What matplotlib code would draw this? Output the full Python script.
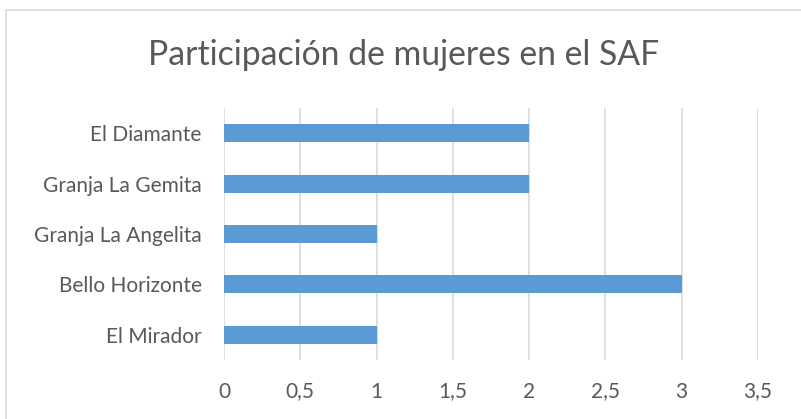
import matplotlib
matplotlib.use("Agg")
import matplotlib.pyplot as plt
import matplotlib.patches as mpatches
from matplotlib.ticker import FuncFormatter

# datos
fincas = ["El Mirador", "Bello Horizonte", "Granja La Angelita", "Granja La Gemita", "El Diamante"]
mujeres = [1, 3, 1, 2, 2]
ticks_x = [0, 0.5, 1, 1.5, 2, 2.5, 3, 3.5]

plt.rcParams['font.family'] = ['Lato', 'DejaVu Sans']
gris_texto = '#595959'

fig = plt.figure(figsize=(8.01, 4.19), dpi=100)

# marco del grafico
marco = mpatches.Rectangle((6 / 801, -0.1), 1.2, 1 - 10 / 419 + 0.1, transform=fig.transFigure,
                           fill=False, edgecolor='#D9D9D9', linewidth=1.2)
fig.patches.append(marco)

ax = fig.add_axes([224 / 801, 1 - 360 / 419, (758 - 224) / 801, (360 - 108) / 419])

ax.barh(range(len(fincas)), mujeres, height=0.36, color='#5B9BD5', zorder=3)

ax.set_xlim(0, 3.5)
ax.set_ylim(-0.5, len(fincas) - 0.5)
ax.set_xticks(ticks_x)
ax.xaxis.set_major_formatter(FuncFormatter(lambda v, p: ('%g' % v).replace('.', ',')))
ax.set_yticks(range(len(fincas)))
ax.set_yticklabels(fincas)

ax.grid(axis='x', color='#D9D9D9', linewidth=1.2, zorder=0)
for s in ax.spines.values():
    s.set_visible(False)
ax.tick_params(axis='both', length=0, labelsize=15, colors=gris_texto)
ax.tick_params(axis='x', pad=15.5)
ax.tick_params(axis='y', pad=16)

fig.text(0.504, 1 - 55 / 419, "Participación de mujeres en el SAF", ha='center', va='center',
         fontsize=24.3, color=gris_texto)

plt.savefig("out.png", dpi=100)
